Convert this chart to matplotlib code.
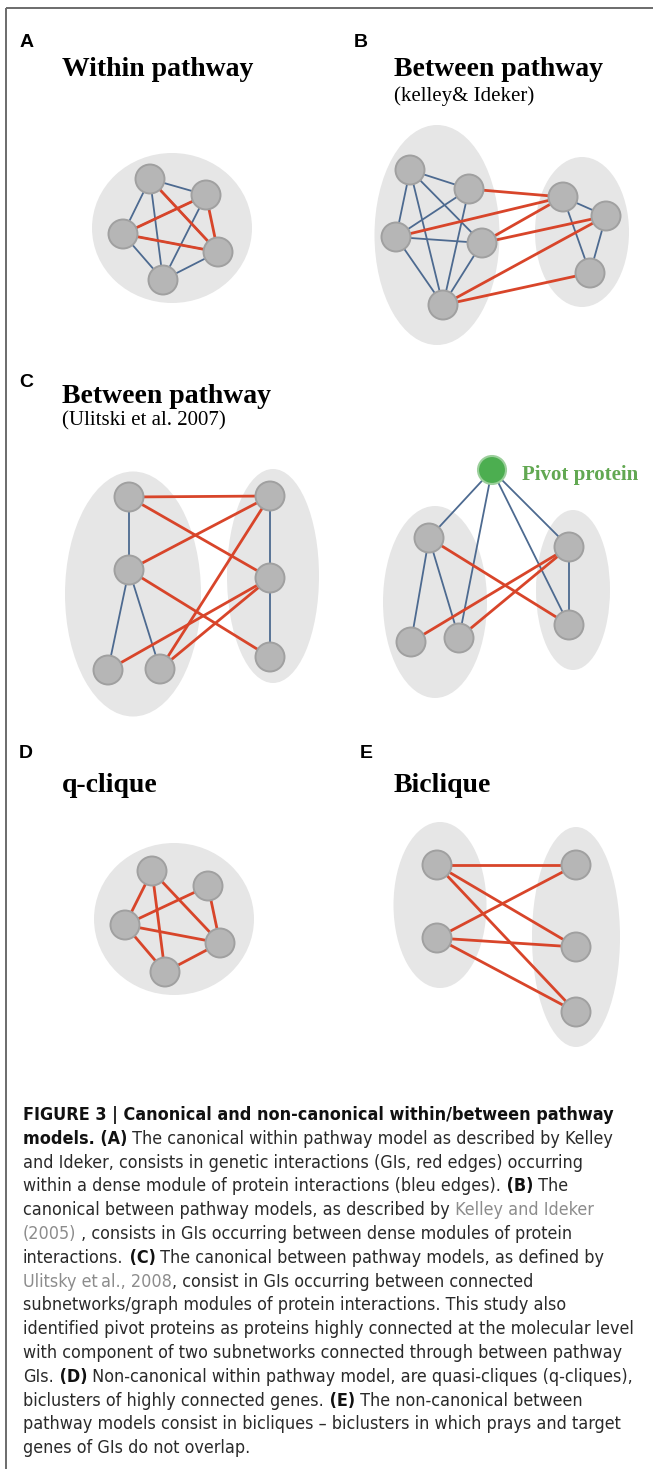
import matplotlib
matplotlib.use('Agg')
import matplotlib.pyplot as plt
from matplotlib.patches import Ellipse, Circle
from matplotlib import font_manager
from matplotlib.font_manager import FontProperties

W, H = 653, 1469

# module shading (cx, cy, width, height) and nodes (x, y) for every panel
a_modules = [(172, 228, 160, 150)]
a_nodes = [(150, 179), (206, 195), (123, 234), (218, 252), (163, 280)]
a_ppi = [(0, 1), (0, 2), (0, 3), (0, 4), (1, 2), (1, 4), (2, 3), (2, 4), (3, 4)]
a_gi = [(0, 3), (1, 2), (1, 3), (2, 3)]

b_modules = [(437, 235, 125, 220), (582, 232, 94, 150)]
b_nodes = [(410, 170), (469, 189), (396, 237), (482, 243), (443, 305),
           (563, 197), (606, 216), (590, 273)]
b_ppi = [(0, 1), (0, 2), (0, 3), (0, 4), (1, 2), (1, 4), (2, 3), (2, 4), (3, 4),
         (5, 6), (5, 7), (6, 7)]
b_gi = [(1, 5), (2, 5), (3, 5), (3, 6), (4, 6), (4, 7)]

c1_modules = [(133, 594, 136, 245), (273, 576, 92, 214)]
c1_nodes = [(129, 497), (129, 570), (108, 670), (160, 669),
            (270, 496), (270, 578), (270, 657)]
c1_ppi = [(0, 1), (1, 2), (1, 3), (4, 5), (5, 6)]
c1_gi = [(0, 4), (0, 5), (1, 4), (1, 6), (2, 5), (3, 4), (3, 5)]

c2_modules = [(435, 602, 104, 192), (573, 590, 74, 160)]
c2_nodes = [(429, 538), (411, 642), (459, 638), (569, 547), (569, 625)]
c2_pivot = (492, 470)
c2_ppi = [(0, 1), (0, 2), (3, 4)]
c2_pivot_links = [0, 2, 3, 4]
c2_gi = [(0, 4), (1, 3), (2, 3)]

d_modules = [(174, 919, 160, 152)]
d_nodes = [(152, 871), (208, 886), (125, 925), (220, 943), (165, 972)]
d_gi = [(0, 2), (0, 4), (0, 3), (1, 2), (1, 3), (2, 3), (2, 4), (3, 4)]

e_modules = [(440, 905, 93, 166), (576, 937, 88, 220)]
e_nodes = [(437, 865), (437, 938), (576, 865), (576, 947), (576, 1012)]
e_gi = [(0, 2), (0, 3), (0, 4), (1, 2), (1, 3), (1, 4)]

panel_labels = ['A', 'B', 'C', 'D', 'E']
label_pos = [(20, 47), (354, 47), (19, 387), (19, 758), (360, 758)]

# caption: (text, kind) with kind b=bold, r=regular, g=grey link
caption = [
    [('FIGURE 3 | Canonical and non-canonical within/between pathway', 'b')],
    [('models. (A)', 'b'), (' The canonical within pathway model as described by Kelley', 'r')],
    [('and Ideker, consists in genetic interactions (GIs, red edges) occurring', 'r')],
    [('within a dense module of protein interactions (bleu edges).', 'r'), (' (B)', 'b'), (' The', 'r')],
    [('canonical between pathway models, as described by', 'r'), (' Kelley and Ideker', 'g')],
    [('(2005)', 'g'), (' , consists in GIs occurring between dense modules of protein', 'r')],
    [('interactions.', 'r'), (' (C)', 'b'), (' The canonical between pathway models, as defined by', 'r')],
    [('Ulitsky et\u2009al., 2008', 'g'), (', consist in GIs occurring between connected', 'r')],
    [('subnetworks/graph modules of protein interactions. This study also', 'r')],
    [('identified pivot proteins as proteins highly connected at the molecular level', 'r')],
    [('with component of two subnetworks connected through between pathway', 'r')],
    [('GIs.', 'r'), (' (D)', 'b'), (' Non-canonical within pathway model, are quasi-cliques (q-cliques),', 'r')],
    [('biclusters of highly connected genes.', 'r'), (' (E)', 'b'), (' The non-canonical between', 'r')],
    [('pathway models consist in bicliques \u2013 biclusters in which prays and target', 'r')],
    [('genes of GIs do not overlap.', 'r')],
]

BG_GREY = '#e6e6e6'
NODE_FILL = '#b6b6b6'
NODE_EDGE = '#a0a0a0'
PPI_BLUE = '#4d6a90'
GI_RED = '#d8452a'

fig = plt.figure(figsize=(W / 100, H / 100), dpi=100)
ax = fig.add_axes([0, 0, 1, 1])
ax.set_xlim(0, W)
ax.set_ylim(H, 0)
ax.axis('off')

# frame (left and top rules)
ax.plot([5.5, 5.5], [8, H], color='#6b6b6b', lw=1.4, solid_capstyle='butt')
ax.plot([5.5, W], [8, 8], color='#6b6b6b', lw=1.4, solid_capstyle='butt')


def draw_network(modules, nodes, ppi=(), gi=()):
    for cx, cy, w, h in modules:
        ax.add_patch(Ellipse((cx, cy), w, h, facecolor=BG_GREY, edgecolor='none', zorder=1))
    for i, j in ppi:
        ax.plot([nodes[i][0], nodes[j][0]], [nodes[i][1], nodes[j][1]],
                color=PPI_BLUE, lw=1.3, zorder=2)
    for i, j in gi:
        ax.plot([nodes[i][0], nodes[j][0]], [nodes[i][1], nodes[j][1]],
                color=GI_RED, lw=2.0, zorder=3)
    for x, y in nodes:
        ax.add_patch(Circle((x, y), 14.5, facecolor=NODE_FILL, edgecolor=NODE_EDGE, lw=1.4, zorder=4))


draw_network(a_modules, a_nodes, a_ppi, a_gi)
draw_network(b_modules, b_nodes, b_ppi, b_gi)
draw_network(c1_modules, c1_nodes, c1_ppi, c1_gi)
for k in c2_pivot_links:
    ax.plot([c2_pivot[0], c2_nodes[k][0]], [c2_pivot[1], c2_nodes[k][1]],
            color=PPI_BLUE, lw=1.3, zorder=2)
draw_network(c2_modules, c2_nodes, c2_ppi, c2_gi)
ax.add_patch(Circle(c2_pivot, 14, facecolor='#4cae50', edgecolor='#9ccf9c', lw=1.5, zorder=4))
draw_network(d_modules, d_nodes, (), d_gi)
draw_network(e_modules, e_nodes, (), e_gi)

# panel letters and titles
for lab, (x, y) in zip(panel_labels, label_pos):
    ax.text(x, y, lab, family='Liberation Sans', weight='bold', fontsize=14, va='baseline')

serif = 'Liberation Serif'
ax.text(62, 76, 'Within pathway', family=serif, weight='bold', fontsize=20, va='baseline')
ax.text(394, 76, 'Between pathway', family=serif, weight='bold', fontsize=20, va='baseline')
ax.text(394, 101, '(kelley& Ideker)', family=serif, fontsize=15, va='baseline')
ax.text(62, 403, 'Between pathway', family=serif, weight='bold', fontsize=20, va='baseline')
ax.text(62, 425, '(Ulitski et al. 2007)', family=serif, fontsize=15, va='baseline')
ax.text(522, 480, 'Pivot protein', family=serif, weight='bold', fontsize=15,
        color='#62a852', va='baseline')
ax.text(62, 792, 'q-clique', family=serif, weight='bold', fontsize=20, va='baseline')
ax.text(394, 792, 'Biclique', family=serif, weight='bold', fontsize=20, va='baseline')


# caption font: prefer a condensed sans (as in the journal layout) when one is installed
def pick_caption_fonts():
    wanted = ['Liberation Sans Narrow', 'DejaVu Sans', 'Roboto Condensed', 'Noto Sans',
              'Open Sans', 'Open Sans Condensed']
    narrow = [f for f in font_manager.fontManager.ttflist
              if f.style == 'normal' and (str(f.stretch) in ('condensed', 'semi-condensed')
                                          or 'Narrow' in f.name or 'Condensed' in f.name)]
    for fam in wanted:
        reg = [f for f in narrow if f.name == fam and int(f.weight) in (400, 300)]
        bold = [f for f in narrow if f.name == fam and int(f.weight) >= 600]
        if reg and bold:
            return FontProperties(fname=reg[0].fname), FontProperties(fname=bold[0].fname)
    return (FontProperties(family='Liberation Sans'),
            FontProperties(family='Liberation Sans', weight='bold'))


cap_reg, cap_bold = pick_caption_fonts()
renderer = fig.canvas.get_renderer()
probe = ax.text(0, 0, caption[9][0][0], fontproperties=cap_reg, fontsize=13)
probe_w = probe.get_window_extent(renderer).width
probe.remove()
cap_size = min(13.4, 13 * 612 / probe_w)

styles = {'b': (cap_bold, '#111111'),
          'r': (cap_reg, '#2a2a2a'),
          'g': (cap_reg, '#8c8c8c')}

y0, step = 1120, 23.8
for n, parts in enumerate(caption):
    prev = None
    for txt, kind in parts:
        fp, col = styles[kind]
        fp = fp.copy()
        fp.set_size(cap_size)
        if prev is None:
            prev = ax.text(23, y0 + n * step, txt, va='baseline', ha='left',
                           fontproperties=fp, color=col)
        else:
            prev = ax.annotate(txt, xy=(1, 0), xycoords=prev, va='bottom', ha='left',
                               fontproperties=fp, color=col)

fig.savefig('out.png', dpi=100)
